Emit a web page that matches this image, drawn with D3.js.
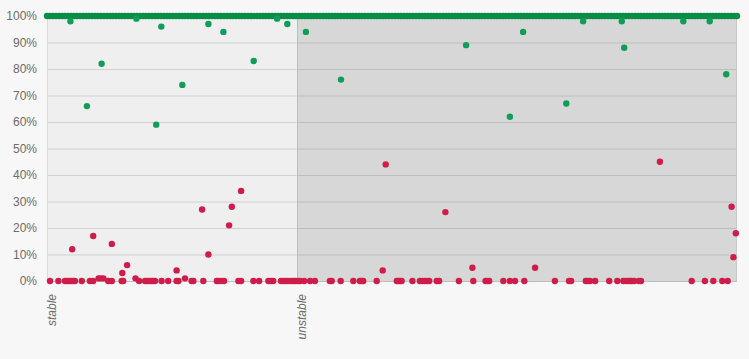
<!DOCTYPE html>
<html lang="en">
<head>
    <meta charset="UTF-8">
    <title>Stability</title>
    <script src="https://d3js.org/d3.v7.min.js"></script>
    <style>
        body { margin: 0; background: #f7f7f7; }
        .tick-label { font-family: "Liberation Sans", Arial, sans-serif; font-size: 12px; fill: #6b6b6b; }
        .band-label { font-family: "Liberation Sans", Arial, sans-serif; font-size: 12px; font-style: italic; fill: #6b6b6b; }
    </style>
</head>
<body>
    <svg id="chart" width="749" height="359"></svg>

    <script>
        // run index ranges for each group
        var groups = ["stable", "unstable"];
        var groupStart = [0, 83.4];
        var groupEnd = [83.4, 230];

        var yTicks = [0, 10, 20, 30, 40, 50, 60, 70, 80, 90, 100];

        // green runs that reached 100%
        var greenFullRuns = [0,1,2,3,4,5,6,7,8,9,10,11,12,13,14,15,16,17,18,19,20,21,22,23,24,25,26,27,28,29,
            30,31,32,33,34,35,36,37,38,39,40,41,42,43,44,45,46,47,48,49,50,51,52,53,54,55,56,57,58,59,
            60,61,62,63,64,65,66,67,68,69,70,71,72,73,74,75,76,77,78,79,80,81,82,83,84,85,86,87,88,89,
            90,91,92,93,94,95,96,97,98,99,100,101,102,103,104,105,106,107,108,109,110,111,112,113,114,
            115,116,117,118,119,120,121,122,123,124,125,126,127,128,129,130,131,132,133,134,135,136,137,
            138,139,140,141,142,143,144,145,146,147,148,149,150,151,152,153,154,155,156,157,158,159,160,
            161,162,163,164,165,166,167,168,169,170,171,172,173,174,175,176,177,178,179,180,181,182,183,
            184,185,186,187,188,189,190,191,192,193,194,195,196,197,198,199,200,201,202,203,204,205,206,
            207,208,209,210,211,212,213,214,215,216,217,218,219,220,221,222,223,224,225,226,227,228,229,230];

        // green runs below 100%
        var greenRuns = [7.8, 13.3, 18.2, 29.8, 36.4, 38.1, 45.1, 53.8, 58.8, 68.9, 76.7, 80.1,
            86.3, 98, 139.7, 154.3, 158.7, 173.1, 178.7, 191.6, 192.4, 212.1, 220.9, 226.4];
        var greenPct = [98, 66, 82, 99, 59, 96, 74, 97, 94, 83, 99, 97,
            94, 76, 89, 62, 94, 67, 98, 98, 88, 98, 98, 78];

        // red runs at 0%
        var redZeroRuns = [1, 3.8, 6, 6.7, 7.3, 8, 8.7, 9.3, 11.6, 14.3, 15.4, 20.4, 21.6, 24.9, 25.4, 30.7,
            32.7, 33.3, 34, 34.7, 35.3, 36, 38.2, 40.4, 43.2, 43.8, 48.2, 48.8, 52.1, 56.6, 57.3, 58.2, 59,
            63.8, 64.7, 68.8, 70.7, 73.8, 74.7, 75.4, 78, 78.8, 79.6, 80.4, 81.3, 82.1, 82.7, 83.6,
            84.3, 85.7, 87.7, 89.3, 94.3, 94.9, 97.9, 102.1, 104.3, 104.9, 105.4, 109.9, 116.6, 117.1,
            117.7, 118.2, 121.8, 124.3, 125.1, 126, 126.8, 127.4, 129.9, 130.7, 137.3, 142.1, 146.2,
            146.8, 147.4, 152.1, 154.3, 156, 159.1, 169.3, 174, 174.7, 179.6, 180.2, 181, 182.7, 187.4,
            190.1, 192.1, 192.9, 193.6, 194.3, 194.9, 195.7, 197.3, 198, 214.9, 219.3, 222.1, 225.1, 226.9];

        // red runs above 0%
        var redRuns = [8.4, 15.4, 17.2, 17.9, 18.8, 21.6, 25.1, 26.7, 29.5, 43.2, 46, 51.7, 53.8, 60.7,
            61.6, 64.7, 111.9, 112.9, 132.8, 141.8, 162.7, 204.3, 228.2, 228.8, 229.6];
        var redPct = [12, 17, 1, 1, 1, 14, 3, 6, 1, 4, 1, 27, 10, 21,
            28, 34, 4, 44, 26, 5, 5, 45, 28, 9, 18];

        var margin = {top: 16, right: 12, bottom: 78, left: 47},
            width = 749 - margin.left - margin.right,
            height = 359 - margin.top - margin.bottom;

        var x = d3.scaleLinear().domain([0, 230]).range([0, width]);
        var y = d3.scaleLinear().domain([0, 100]).range([height, 0]);

        var svg = d3.select("#chart")
            .append("g")
            .attr("transform", "translate(" + margin.left + "," + margin.top + ")");

        var bandFill = ["#efefef", "#d7d7d7"];

        svg.selectAll(".band")
            .data(groups)
            .enter().append("rect")
            .attr("class", "band")
            .attr("x", (d, i) => x(groupStart[i]))
            .attr("y", 0)
            .attr("width", (d, i) => x(groupEnd[i]) - x(groupStart[i]))
            .attr("height", height)
            .attr("fill", (d, i) => bandFill[i]);

        // gridlines
        svg.selectAll(".grid")
            .data(yTicks)
            .enter().append("line")
            .attr("x1", 0)
            .attr("x2", width)
            .attr("y1", d => y(d) + 0.5)
            .attr("y2", d => y(d) + 0.5)
            .attr("stroke", "rgba(0,0,0,0.12)")
            .attr("stroke-width", 1);

        // band borders
        svg.append("line")
            .attr("x1", 0.5).attr("x2", 0.5)
            .attr("y1", 0).attr("y2", height)
            .attr("stroke", "#dcdcdc");
        svg.append("line")
            .attr("x1", Math.round(x(groupStart[1])) + 0.5).attr("x2", Math.round(x(groupStart[1])) + 0.5)
            .attr("y1", 0).attr("y2", height)
            .attr("stroke", "#bdbdbd");
        svg.append("line")
            .attr("x1", width - 0.5).attr("x2", width - 0.5)
            .attr("y1", 0).attr("y2", height)
            .attr("stroke", "#c8c8c8");
        svg.append("line")
            .attr("x1", 0).attr("x2", width)
            .attr("y1", height + 0.5).attr("y2", height + 0.5)
            .attr("stroke", "#bdbdbd");

        // y labels
        svg.selectAll(".tick-label")
            .data(yTicks)
            .enter().append("text")
            .attr("class", "tick-label")
            .attr("x", -10)
            .attr("y", d => y(d))
            .attr("dy", "0.35em")
            .attr("text-anchor", "end")
            .text(d => d + "%");

        // group labels
        svg.selectAll(".band-label")
            .data(groups)
            .enter().append("text")
            .attr("class", "band-label")
            .attr("transform", (d, i) => "translate(" + (x(groupStart[i]) + 9) + "," + (height + 13) + ") rotate(-90)")
            .attr("text-anchor", "end")
            .text(d => d);

        function dots(xs, ys, fill) {
            svg.append("g")
                .selectAll("circle")
                .data(xs)
                .enter().append("circle")
                .attr("cx", d => x(d))
                .attr("cy", (d, i) => y(ys(i)))
                .attr("r", 3.2)
                .attr("fill", fill);
        }

        dots(redZeroRuns, i => 0, "#cf1c4a");
        dots(redRuns, i => redPct[i], "#cf1c4a");
        dots(greenFullRuns, i => 100, "#0a8d47");
        dots(greenRuns, i => greenPct[i], "#0f9e58");
    </script>
</body>
</html>
